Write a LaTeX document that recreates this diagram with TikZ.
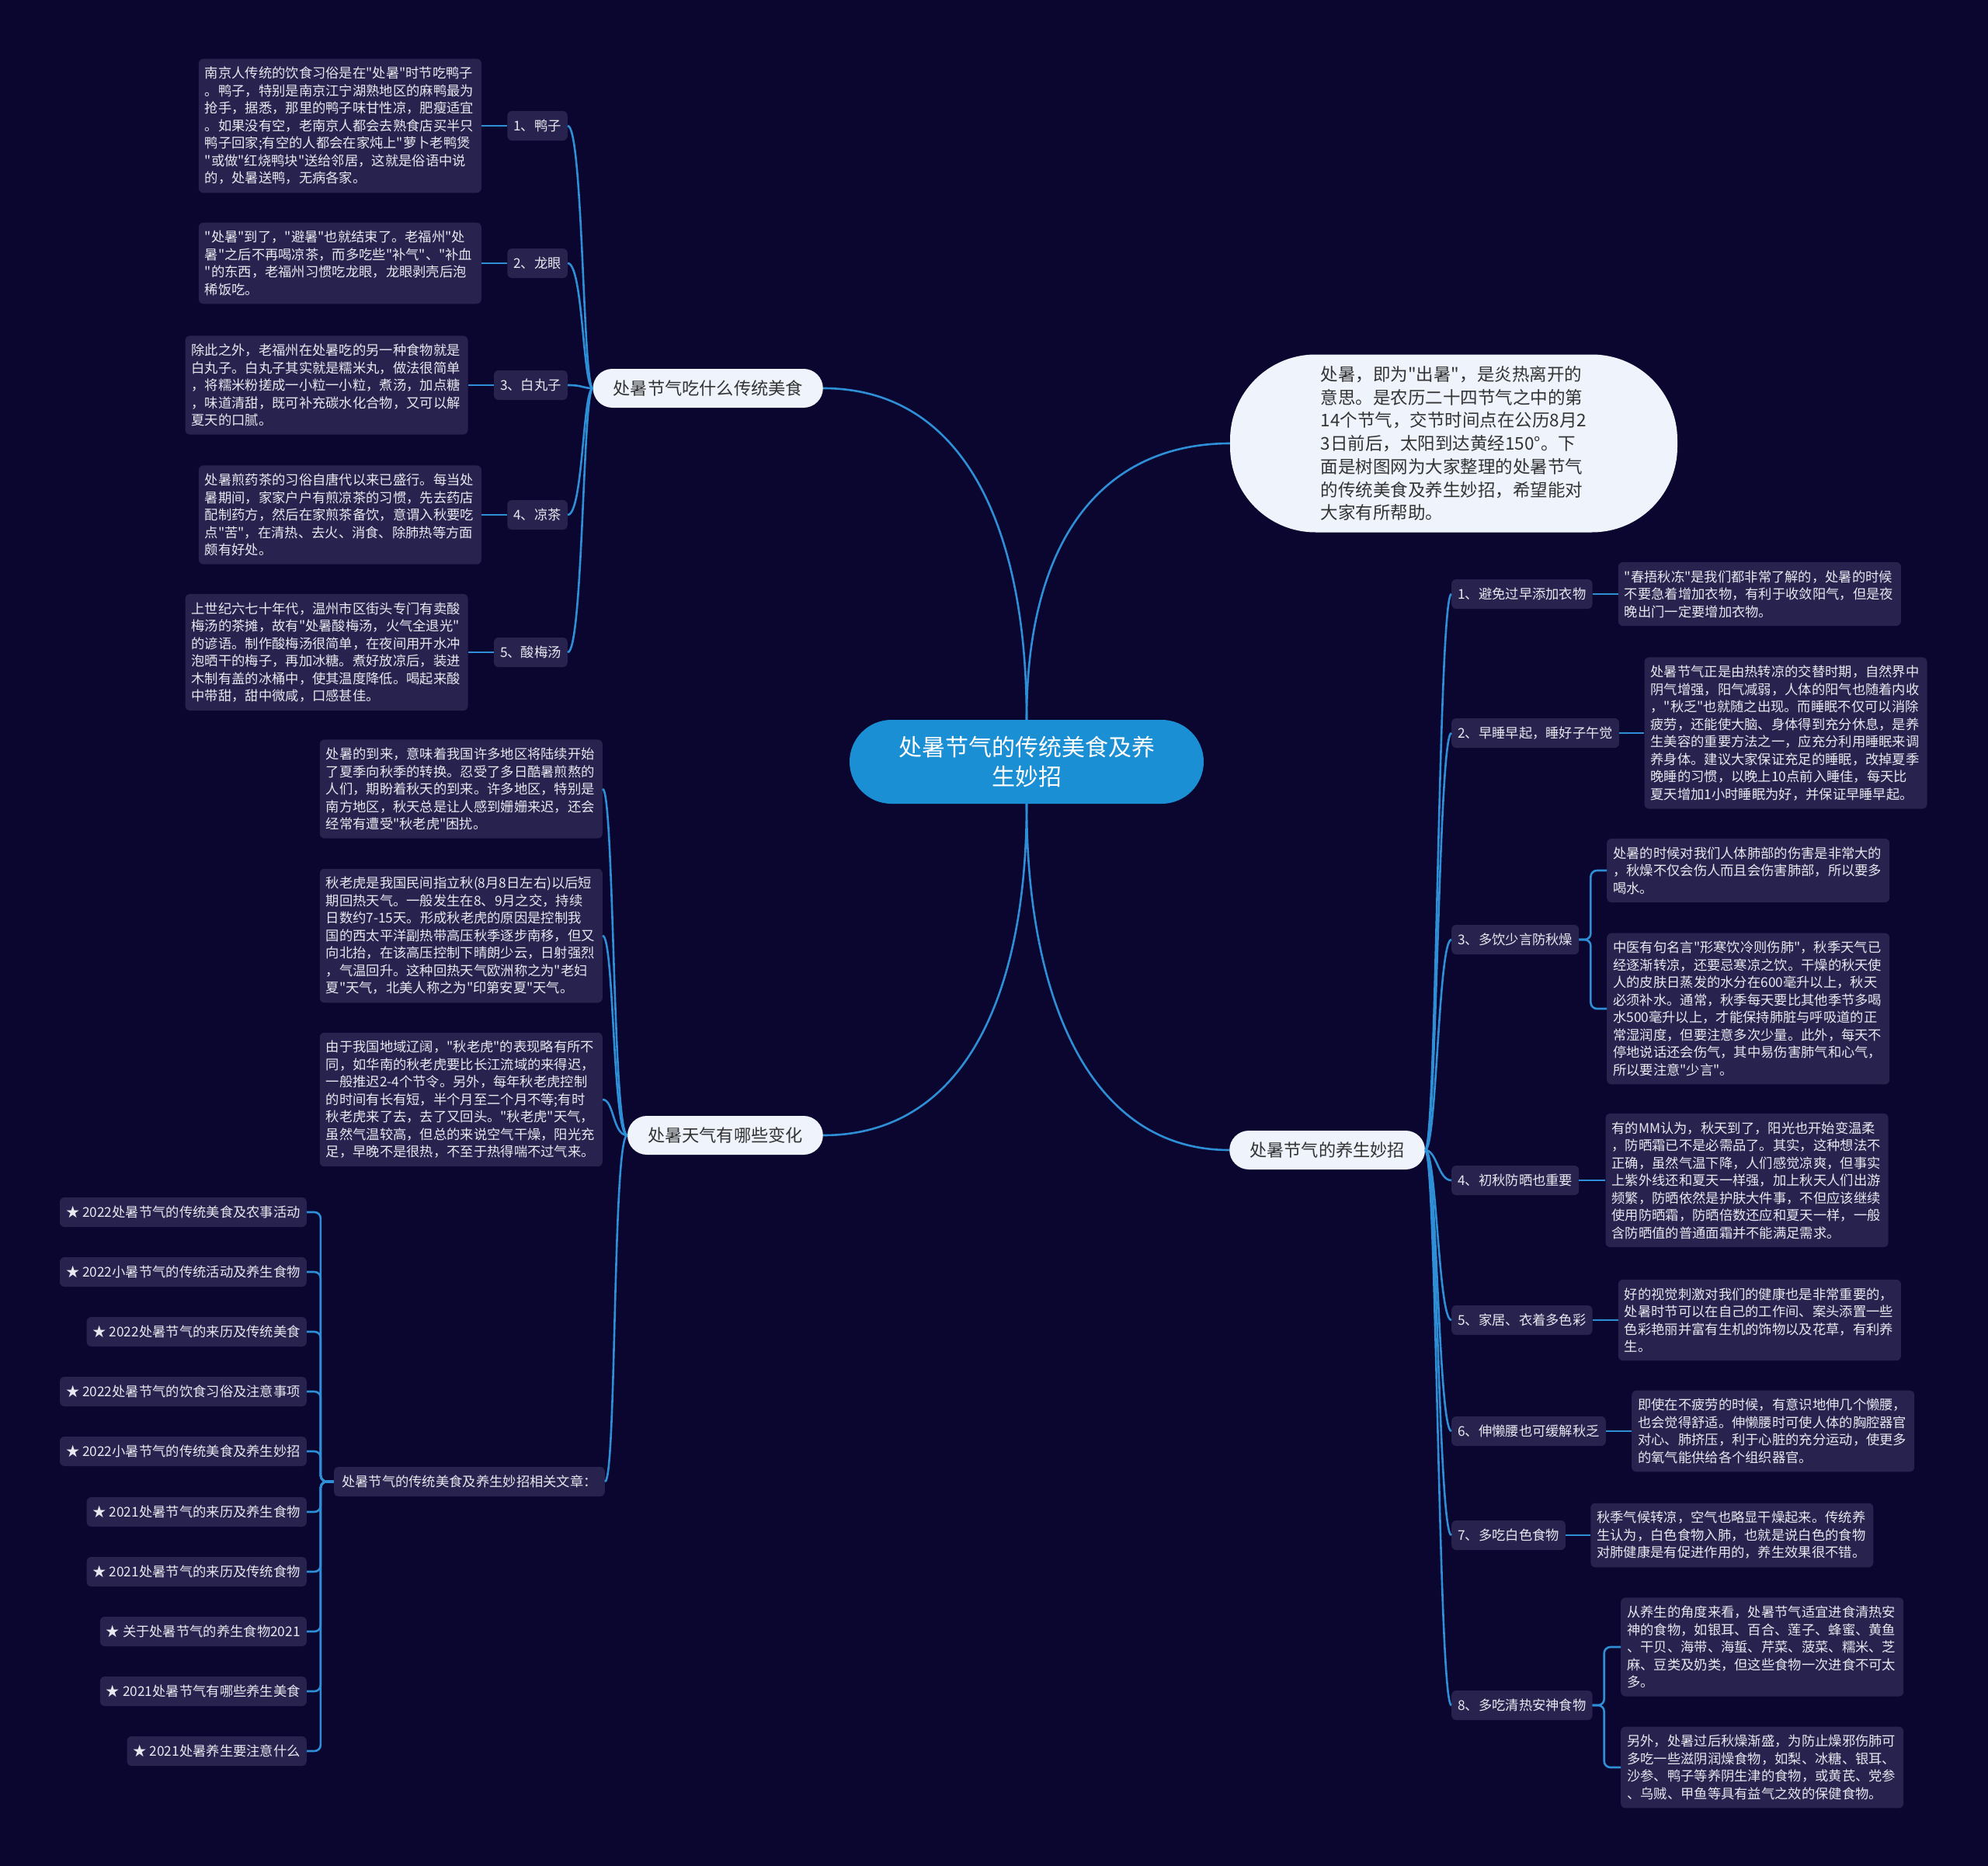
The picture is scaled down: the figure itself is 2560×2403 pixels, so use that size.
\documentclass[tikz,border=0pt]{standalone}
\usepackage{fontspec}
\newfontfamily\cjkfont{Noto Sans CJK SC}
\usetikzlibrary{positioning}
\definecolor{bgnavy}{HTML}{0A0630}
\definecolor{boxnavy}{HTML}{27234E}
\definecolor{linkblue}{HTML}{2E8FD6}
\definecolor{rootblue}{HTML}{1B8FD3}
\definecolor{pillwhite}{HTML}{EEF3FC}
\definecolor{inkgray}{HTML}{333333}
\definecolor{notetext}{HTML}{E8E8F0}

\begin{document}
\begin{tikzpicture}[x=1pt, y=-1pt,
    link/.style={draw=linkblue, line width=2.6pt},
    root/.style={rectangle, rounded corners=54pt, fill=rootblue, text=white,
      minimum width=456pt, minimum height=108pt, align=center,
      font={\cjkfont\fontsize{30pt}{38pt}\selectfont}},
    pill/.style={rectangle, rounded corners=25pt, fill=pillwhite, text=inkgray,
      minimum height=50pt, inner xsep=26pt, font={\cjkfont\fontsize{22.2pt}{26pt}\selectfont}},
    tag/.style={rectangle, rounded corners=6pt, fill=boxnavy, text=notetext,
      minimum height=38pt, inner xsep=8pt, inner ysep=0pt,
      font={\cjkfont\fontsize{17.3pt}{22.5pt}\selectfont}},
    note/.style={tag, text width=348pt, align=left, inner xsep=8pt,
      inner ysep=10.5pt, minimum height=0pt},
  ]
    \fill[bgnavy] (0,0) rectangle (2560,2403);
    \useasboundingbox (0,0) rectangle (2560,2403);

    \node[root] (ctr) at (1322,981) {处暑节气的传统美食及养\\生妙招};
    \node[pill, rounded corners=110pt, minimum width=576pt, minimum height=229pt,
      align=left, font={\cjkfont\fontsize{22.5pt}{29.7pt}\selectfont}] (intro) at (1872,571)
      {处暑，即为"出暑"，是炎热离开的\\意思。是农历二十四节气之中的第\\14个节气，交节时间点在公历8月2\\3日前后，太阳到达黄经150°。下\\面是树图网为大家整理的处暑节气\\的传统美食及养生妙招，希望能对\\大家有所帮助。};

    \node[pill, anchor=east] (food) at (1060,500) {处暑节气吃什么传统美食};
    \node[pill, anchor=east] (wthr) at (1060,1462) {处暑天气有哪些变化};
    \node[pill, anchor=west] (care) at (1583,1481) {处暑节气的养生妙招};

    \node[tag, anchor=east] (F1) at (731,162) {1、鸭子};
    \node[tag, anchor=east] (F2) at (731,339) {2、龙眼};
    \node[tag, anchor=east] (F3) at (731,496) {3、白丸子};
    \node[tag, anchor=east] (F4) at (731,663) {4、凉茶};
    \node[tag, anchor=east] (F5) at (731,840) {5、酸梅汤};
    \node[note, left=33pt of F1] (nF1) {南京人传统的饮食习俗是在"处暑"时节吃鸭子\\。鸭子，特别是南京江宁湖熟地区的麻鸭最为\\抢手，据悉，那里的鸭子味甘性凉，肥瘦适宜\\。如果没有空，老南京人都会去熟食店买半只\\鸭子回家;有空的人都会在家炖上"萝卜老鸭煲\\"或做"红烧鸭块"送给邻居，这就是俗语中说\\的，处暑送鸭，无病各家。};
    \node[note, left=33pt of F2] (nF2) {"处暑"到了，"避暑"也就结束了。老福州"处\\暑"之后不再喝凉茶，而多吃些"补气"、"补血\\"的东西，老福州习惯吃龙眼，龙眼剥壳后泡\\稀饭吃。};
    \node[note, left=33pt of F3] (nF3) {除此之外，老福州在处暑吃的另一种食物就是\\白丸子。白丸子其实就是糯米丸，做法很简单\\，将糯米粉搓成一小粒一小粒，煮汤，加点糖\\，味道清甜，既可补充碳水化合物，又可以解\\夏天的口腻。};
    \node[note, left=33pt of F4] (nF4) {处暑煎药茶的习俗自唐代以来已盛行。每当处\\暑期间，家家户户有煎凉茶的习惯，先去药店\\配制药方，然后在家煎茶备饮，意谓入秋要吃\\点"苦"，在清热、去火、消食、除肺热等方面\\颇有好处。};
    \node[note, left=33pt of F5] (nF5) {上世纪六七十年代，温州市区街头专门有卖酸\\梅汤的茶摊，故有"处暑酸梅汤，火气全退光"\\的谚语。制作酸梅汤很简单，在夜间用开水冲\\泡晒干的梅子，再加冰糖。煮好放凉后，装进\\木制有盖的冰桶中，使其温度降低。喝起来酸\\中带甜，甜中微咸，口感甚佳。};

    \node[note, anchor=east] (W1) at (776,1016) {处暑的到来，意味着我国许多地区将陆续开始\\了夏季向秋季的转换。忍受了多日酷暑煎熬的\\人们，期盼着秋天的到来。许多地区，特别是\\南方地区，秋天总是让人感到姗姗来迟，还会\\经常有遭受"秋老虎"困扰。};
    \node[note, anchor=east] (W2) at (776,1205) {秋老虎是我国民间指立秋(8月8日左右)以后短\\期回热天气。一般发生在8、9月之交，持续\\日数约7-15天。形成秋老虎的原因是控制我\\国的西太平洋副热带高压秋季逐步南移，但又\\向北抬，在该高压控制下晴朗少云，日射强烈\\，气温回升。这种回热天气欧洲称之为"老妇\\夏"天气，北美人称之为"印第安夏"天气。};
    \node[note, anchor=east] (W3) at (776,1416) {由于我国地域辽阔，"秋老虎"的表现略有所不\\同，如华南的秋老虎要比长江流域的来得迟，\\一般推迟2-4个节令。另外，每年秋老虎控制\\的时间有长有短，半个月至二个月不等;有时\\秋老虎来了去，去了又回头。"秋老虎"天气，\\虽然气温较高，但总的来说空气干燥，阳光充\\足，早晚不是很热，不至于热得喘不过气来。};
    \node[tag, anchor=east, inner xsep=10pt] (W4) at (779,1908) {处暑节气的传统美食及养生妙招相关文章：};

    \foreach \n/\y/\t in {1/1561/{★ 2022处暑节气的传统美食及农事活动},
        2/1638/{★ 2022小暑节气的传统活动及养生食物},
        3/1715/{★ 2022处暑节气的来历及传统美食},
        4/1792/{★ 2022处暑节气的饮食习俗及注意事项},
        5/1869/{★ 2022小暑节气的传统美食及养生妙招},
        6/1947/{★ 2021处暑节气的来历及养生食物},
        7/2024/{★ 2021处暑节气的来历及传统食物},
        8/2101/{★ 关于处暑节气的养生食物2021},
        9/2178/{★ 2021处暑节气有哪些养生美食},
        10/2255/{★ 2021处暑养生要注意什么}} {
      \node[tag, anchor=east] (A\n) at (395,\y) {\t};
      \draw[link, rounded corners=8pt] (W4.west) -- ++(-17,0) |- (A\n.east);
    }

    \node[tag, anchor=west] (H1) at (1869,765) {1、避免过早添加衣物};
    \node[tag, anchor=west] (H2) at (1869,944) {2、早睡早起，睡好子午觉};
    \node[tag, anchor=west] (H3) at (1869,1210) {3、多饮少言防秋燥};
    \node[tag, anchor=west] (H4) at (1869,1520) {4、初秋防晒也重要};
    \node[tag, anchor=west] (H5) at (1869,1700) {5、家居、衣着多色彩};
    \node[tag, anchor=west] (H6) at (1869,1843) {6、伸懒腰也可缓解秋乏};
    \node[tag, anchor=west] (H7) at (1869,1977) {7、多吃白色食物};
    \node[tag, anchor=west] (H8) at (1869,2196) {8、多吃清热安神食物};
    \node[note, right=33pt of H1] (nH1) {"春捂秋冻"是我们都非常了解的，处暑的时候\\不要急着增加衣物，有利于收敛阳气，但是夜\\晚出门一定要增加衣物。};
    \node[note, right=32pt of H2] (nH2) {处暑节气正是由热转凉的交替时期，自然界中\\阴气增强，阳气减弱，人体的阳气也随着内收\\，"秋乏"也就随之出现。而睡眠不仅可以消除\\疲劳，还能使大脑、身体得到充分休息，是养\\生美容的重要方法之一，应充分利用睡眠来调\\养身体。建议大家保证充足的睡眠，改掉夏季\\晚睡的习惯，以晚上10点前入睡佳，每天比\\夏天增加1小时睡眠为好，并保证早睡早起。};
    \node[note, anchor=west] (nH3a) at (2069,1121) {处暑的时候对我们人体肺部的伤害是非常大的\\，秋燥不仅会伤人而且会伤害肺部，所以要多\\喝水。};
    \node[note, anchor=west] (nH3b) at (2069,1299) {中医有句名言"形寒饮冷则伤肺"，秋季天气已\\经逐渐转凉，还要忌寒凉之饮。干燥的秋天使\\人的皮肤日蒸发的水分在600毫升以上，秋天\\必须补水。通常，秋季每天要比其他季节多喝\\水500毫升以上，才能保持肺脏与呼吸道的正\\常湿润度，但要注意多次少量。此外，每天不\\停地说话还会伤气，其中易伤害肺气和心气，\\所以要注意"少言"。};
    \node[note, right=34pt of H4] (nH4) {有的MM认为，秋天到了，阳光也开始变温柔\\，防晒霜已不是必需品了。其实，这种想法不\\正确，虽然气温下降，人们感觉凉爽，但事实\\上紫外线还和夏天一样强，加上秋天人们出游\\频繁，防晒依然是护肤大件事，不但应该继续\\使用防晒霜，防晒倍数还应和夏天一样，一般\\含防晒值的普通面霜并不能满足需求。};
    \node[note, right=33pt of H5] (nH5) {好的视觉刺激对我们的健康也是非常重要的，\\处暑时节可以在自己的工作间、案头添置一些\\色彩艳丽并富有生机的饰物以及花草，有利养\\生。};
    \node[note, right=33pt of H6] (nH6) {即使在不疲劳的时候，有意识地伸几个懒腰，\\也会觉得舒适。伸懒腰时可使人体的胸腔器官\\对心、肺挤压，利于心脏的充分运动，使更多\\的氧气能供给各个组织器官。};
    \node[note, right=32pt of H7] (nH7) {秋季气候转凉，空气也略显干燥起来。传统养\\生认为，白色食物入肺，也就是说白色的食物\\对肺健康是有促进作用的，养生效果很不错。};
    \node[note, anchor=west] (nH8a) at (2087,2121) {从养生的角度来看，处暑节气适宜进食清热安\\神的食物，如银耳、百合、莲子、蜂蜜、黄鱼\\、干贝、海带、海蜇、芹菜、菠菜、糯米、芝\\麻、豆类及奶类，但这些食物一次进食不可太\\多。};
    \node[note, anchor=west] (nH8b) at (2087,2276) {另外，处暑过后秋燥渐盛，为防止燥邪伤肺可\\多吃一些滋阴润燥食物，如梨、冰糖、银耳、\\沙参、鸭子等养阴生津的食物，或黄芪、党参\\、乌贼、甲鱼等具有益气之效的保健食物。};

    \draw[link] (food.east) .. controls +(180,0) and +(0,-250) .. (ctr.north);
    \draw[link] (ctr.north) .. controls +(0,-250) and +(-150,0) .. (intro.west);
    \draw[link] (ctr.south) .. controls +(0,250) and +(180,0) .. (wthr.east);
    \draw[link] (ctr.south) .. controls +(0,250) and +(-180,0) .. (care.west);

    \foreach \s in {F1,F2,F3,F4,F5} {
      \draw[link] (\s.east) .. controls +(20,0) and +(-13,0) .. (food.west);
      \draw[link] (\s.west) -- (n\s.east);
    }
    \foreach \w in {W1,W2,W3,W4} {
      \draw[link] (\w.east) .. controls +(15,0) and +(-19,0) .. (wthr.west);
    }
    \foreach \h in {H1,H2,H3,H4,H5,H6,H7,H8} {
      \draw[link] (care.east) .. controls +(15,0) and +(-17,0) .. (\h.west);
    }
    \foreach \h in {H1,H2,H4,H5,H6,H7} {
      \draw[link] (\h.east) -- (n\h.west);
    }
    \foreach \a/\b in {H3/nH3a, H3/nH3b, H8/nH8a, H8/nH8b} {
      \draw[link, rounded corners=8pt] (\a.east) -- ++(15,0) |- (\b.west);
    }
  \end{tikzpicture}
\end{document}
